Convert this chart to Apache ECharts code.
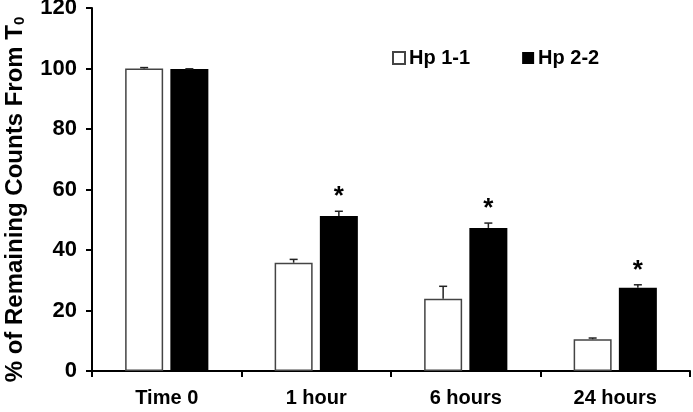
<!DOCTYPE html>
<html>
<head>
<meta charset="utf-8">
<script src="https://cdn.jsdelivr.net/npm/echarts@6/dist/echarts.min.js"></script>
<style>
html,body{margin:0;padding:0;background:#fff;}
#chart{width:693px;height:412px;}
</style>
</head>
<body>
<div id="chart"></div>
<script>
const categories = ['Time 0', '1 hour', '6 hours', '24 hours'];
const hp11 = [100, 35.8, 23.9, 10.5];
const hp11Err = [0.3, 1.1, 4.1, 0.4];
const hp22 = [99.8, 51.2, 47.3, 27.5];
const hp22Err = [0.1, 1.6, 1.6, 1.0];
const significant = [false, true, true, true];
const yTicks = [0, 20, 40, 60, 80, 100, 120];

const BAR_W = 38;
const BAR_GAP = 0.19;
const OFFSET = (BAR_W + BAR_W * BAR_GAP) / 2;
const FONT = '"Liberation Sans", Arial, sans-serif';

const errData = [];
categories.forEach((c, i) => {
  errData.push([i, hp11[i], hp11Err[i], 0, 0]);
  errData.push([i, hp22[i], hp22Err[i], 1, significant[i] ? 1 : 0]);
});

const chart = echarts.init(document.getElementById('chart'), null, {renderer: 'canvas'});
chart.setOption({
  animation: false,
  backgroundColor: '#fff',
  grid: {left: 92, right: 3, top: 8, bottom: 41, containLabel: false, outerBoundsMode: 'none'},
  legend: {
    data: ['Hp 1-1', 'Hp 2-2'],
    left: 387, top: 43,
    icon: 'rect',
    itemWidth: 12, itemHeight: 12, itemGap: 52,
    textStyle: {fontFamily: FONT, fontWeight: 'bold', fontSize: 20, color: '#000', padding: [0, 0, 0, -1]}
  },
  xAxis: {
    type: 'category',
    data: categories,
    axisLine: {lineStyle: {color: '#000', width: 2}},
    axisTick: {show: true, alignWithLabel: false, length: 6, lineStyle: {color: '#000', width: 2}},
    axisLabel: {fontFamily: FONT, fontWeight: 'bold', fontSize: 20, color: '#000', margin: 17}
  },
  yAxis: {
    type: 'value',
    min: yTicks[0], max: yTicks[yTicks.length - 1], interval: 20,
    name: '% of Remaining Counts From T{sub|0}',
    nameLocation: 'middle',
    nameGap: 65,
    nameRotate: 90,
    nameTextStyle: {
      fontFamily: FONT, fontWeight: 'bold', fontSize: 24, color: '#000',
      padding: [0, 20, 0, 0],
      rich: {sub: {fontFamily: FONT, fontWeight: 'bold', fontSize: 15, color: '#000', padding: [9, 0, 0, 0]}}
    },
    axisLine: {show: true, lineStyle: {color: '#000', width: 2}},
    axisTick: {show: true, length: 6, lineStyle: {color: '#000', width: 2}},
    splitLine: {show: false},
    axisLabel: {fontFamily: FONT, fontWeight: 'bold', fontSize: 22, color: '#000', margin: 15}
  },
  series: [
    {
      name: 'Hp 1-1', type: 'bar', data: hp11,
      barWidth: BAR_W, barGap: (BAR_GAP * 100) + '%',
      itemStyle: {color: '#fff', borderColor: '#444', borderWidth: 1.5}
    },
    {
      name: 'Hp 2-2', type: 'bar', data: hp22,
      barWidth: BAR_W,
      itemStyle: {color: '#000', borderColor: '#000', borderWidth: 0}
    },
    {
      type: 'custom', name: 'err', data: errData, z: 10,
      encode: {x: 0, y: 1},
      renderItem: function (params, api) {
        const i = api.value(0), v = api.value(1), e = api.value(2), s = api.value(3), star = api.value(4);
        const base = api.coord([i, v]);
        const top = api.coord([i, v + e]);
        const x = base[0] + (s === 0 ? -OFFSET : OFFSET);
        const children = [
          {type: 'line', shape: {x1: x, y1: base[1], x2: x, y2: top[1]}, style: {stroke: '#222', lineWidth: 1.5}},
          {type: 'line', shape: {x1: x - 4, y1: top[1], x2: x + 4, y2: top[1]}, style: {stroke: '#222', lineWidth: 1.5}}
        ];
        if (star) {
          children.push({type: 'text', style: {text: '*', x: x, y: top[1] - 14, align: 'center', verticalAlign: 'middle',
            font: 'bold 26px ' + FONT, fill: '#000'}});
        }
        return {type: 'group', children: children};
      }
    }
  ]
});
</script>
</body>
</html>
